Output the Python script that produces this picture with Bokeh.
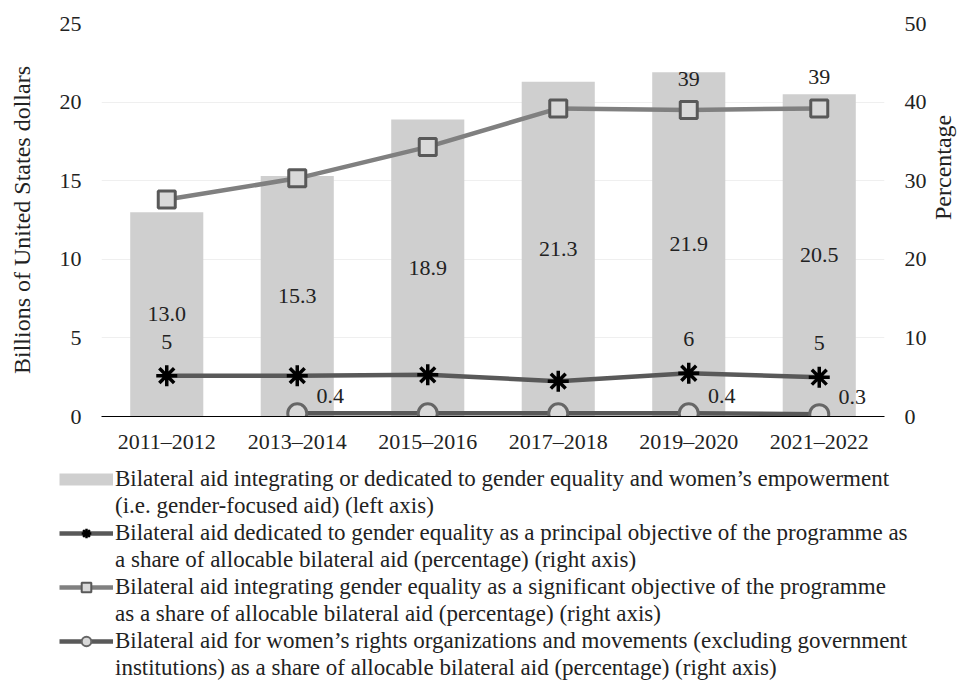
from bokeh.plotting import figure
from bokeh.models import (ColumnDataSource, Range1d, LinearAxis, Legend, LegendItem,
                          FixedTicker, LabelSet)
from bokeh.core.properties import value
from bokeh.layouts import column
from bokeh.embed import file_html
from bokeh.resources import INLINE
import numpy as np
import math

periods = ["2011–2012", "2013–2014", "2015–2016", "2017–2018", "2019–2020", "2021–2022"]
gender_focused = [13.0, 15.3, 18.9, 21.3, 21.9, 20.5]
principal_pct = [5.2, 5.2, 5.3, 4.5, 5.5, 5.0]
significant_pct = [27.6, 30.3, 34.3, 39.2, 39.0, 39.2]
womens_rights_pct = [np.nan, 0.4, 0.4, 0.4, 0.4, 0.3]

bar_labels = ["13.0", "15.3", "18.9", "21.3", "21.9", "20.5"]
principal_labels = ["5", "", "", "", "6", "5"]
significant_labels = ["", "", "", "", "39", "39"]
womens_labels = ["", "0.4", "", "", "0.4", "0.3"]

legend_gender_focused = ["Bilateral aid integrating or dedicated to gender equality and women\u2019s empowerment",
                         "(i.e. gender-focused aid) (left axis)"]
legend_principal = ["Bilateral aid dedicated to gender equality as a principal objective of the programme as",
                    "a share of allocable bilateral aid (percentage) (right axis)"]
legend_significant = ["Bilateral aid integrating gender equality as a significant objective of the programme",
                      "as a share of allocable bilateral aid (percentage) (right axis)"]
legend_womens = ["Bilateral aid for women\u2019s rights organizations and movements (excluding government",
                 "institutions) as a share of allocable bilateral aid (percentage) (right axis)"]

FONT = "Liberation Serif"
TXT = "#222222"
W = 971

# styles
BAR = dict(fill_color="#cfcfcf", line_color=None)
SG_L = dict(line_color="#808080", line_width=4.5)
SG_M = dict(marker="square", size=17, fill_color="#d9d9d9", line_color="#595959", line_width=3)
PR_L = dict(line_color="#595959", line_width=4.5)
PR_M = dict(marker="asterisk", size=21, line_color="black", line_width=3.5)
WR_L = dict(line_color="#595959", line_width=4.5)
WR_M = dict(marker="circle", size=19, fill_color="#d9d9d9", line_color="#666666", line_width=3)

src = ColumnDataSource(dict(
    x=periods, bars=gender_focused, bar_mid=[v / 2 for v in gender_focused],
    bar_lab=bar_labels, pr=principal_pct, pr_lab=principal_labels,
    sg=significant_pct, sg_lab=significant_labels,
    wr=womens_rights_pct, wr_lab=womens_labels,
))

p = figure(x_range=periods, y_range=Range1d(0, 25), width=W, height=456,
           output_backend="svg", toolbar_location=None,
           min_border_left=101, min_border_right=W - 885, min_border_top=23, min_border_bottom=40)
p.extra_y_ranges = {"pct": Range1d(0, 50)}
p.outline_line_color = None

p.vbar(x="x", top="bars", width=0.56, source=src, **BAR)
p.line(x="x", y="sg", source=src, y_range_name="pct", **SG_L)
p.scatter(x="x", y="sg", source=src, y_range_name="pct", **SG_M)
p.line(x="x", y="pr", source=src, y_range_name="pct", **PR_L)
p.scatter(x="x", y="pr", source=src, y_range_name="pct", **PR_M)
p.line(x="x", y="wr", source=src, y_range_name="pct", **WR_L)
p.scatter(x="x", y="wr", source=src, y_range_name="pct", **WR_M)

lab_style = dict(text_font=value(FONT), text_font_size="22px", text_color=TXT,
                 text_align="center", text_baseline="middle")
p.add_layout(LabelSet(x="x", y="bar_mid", text="bar_lab", source=src, **lab_style))
p.add_layout(LabelSet(x="x", y="pr", text="pr_lab", source=src, y_range_name="pct",
                      y_offset=34, **lab_style))
p.add_layout(LabelSet(x="x", y="sg", text="sg_lab", source=src, y_range_name="pct",
                      y_offset=31, **lab_style))
p.add_layout(LabelSet(x="x", y="wr", text="wr_lab", source=src, y_range_name="pct",
                      x_offset=33, y_offset=17, **lab_style))

p.yaxis.ticker = FixedTicker(ticks=[0, 5, 10, 15, 20, 25])
p.yaxis.axis_label = "Billions of United States dollars"
ax_r = LinearAxis(y_range_name="pct", ticker=FixedTicker(ticks=[0, 10, 20, 30, 40, 50]),
                  axis_label="Percentage")
if "axis_label_orientation" in ax_r.properties():
    ax_r.axis_label_orientation = math.pi / 2
p.add_layout(ax_r, "right")

for ax in [p.yaxis[0], ax_r, p.xaxis[0]]:
    ax.major_tick_line_color = None
    ax.minor_tick_line_color = None
    ax.major_tick_out = 0
    ax.major_tick_in = 0
    ax.minor_tick_out = 0
    ax.minor_tick_in = 0
    ax.major_label_text_font = FONT
    ax.major_label_text_font_size = "22px"
    ax.major_label_text_color = TXT
    ax.axis_label_text_font = FONT
    ax.axis_label_text_font_size = "24px"
    ax.axis_label_text_font_style = "normal"
    ax.axis_label_text_color = TXT

for ax in [p.yaxis[0], ax_r]:
    ax.axis_line_color = None
    ax.major_label_standoff = 20
p.yaxis[0].axis_label_standoff = 22
ax_r.axis_label_standoff = 13

p.xaxis.axis_line_color = "black"
p.xaxis.axis_line_width = 1
p.xaxis.major_label_standoff = 12

p.xgrid.grid_line_color = None
p.ygrid.grid_line_color = "#efefef"
p.ygrid.grid_line_width = 1

# legend panel (swatch renderers: one point each, kept outside the visible range)
lg = figure(width=W, height=226, output_backend="svg", toolbar_location=None,
            x_range=Range1d(10, 11), y_range=Range1d(10, 11),
            x_axis_location=None, y_axis_location=None,
            min_border_left=59, min_border_right=0, min_border_top=10, min_border_bottom=0)
lg.outline_line_color = None
lg.grid.grid_line_color = None
for fig in (p, lg):
    if "frame_align" in fig.properties():
        fig.frame_align = False
e = dict(x=[0], y=[0])
l_bar = lg.line(**e, line_color="#cfcfcf", line_width=12, line_cap="butt")
l_pr = [lg.line(**e, **PR_L),
        lg.scatter(**e, marker="asterisk", size=10, line_color="black", line_width=2.5)]
l_sg = [lg.line(**e, **SG_L),
        lg.scatter(**e, marker="square", size=9, fill_color="#d9d9d9", line_color="#595959", line_width=2)]
l_wr = [lg.line(**e, **WR_L),
        lg.scatter(**e, marker="circle", size=9, fill_color="#d9d9d9", line_color="#666666", line_width=2)]

items = []
for lines, rends in [(legend_gender_focused, [l_bar]), (legend_principal, l_pr),
                     (legend_significant, l_sg), (legend_womens, l_wr)]:
    items.append(LegendItem(label=lines[0], renderers=rends))
    items.append(LegendItem(label=lines[1], renderers=[]))

legend = Legend(items=items, location="top_left", orientation="vertical")
legend.label_text_font = FONT
legend.label_text_font_size = "23px"
legend.label_text_color = TXT
legend.glyph_width = 54
legend.glyph_height = 24
legend.label_height = 20
legend.label_standoff = 2
legend.spacing = 1
legend.padding = 0
legend.margin = 0
legend.border_line_color = None
legend.background_fill_alpha = 0
lg.add_layout(legend, "center")

open("out.html", "w").write(file_html(column(p, lg, spacing=0), INLINE))
